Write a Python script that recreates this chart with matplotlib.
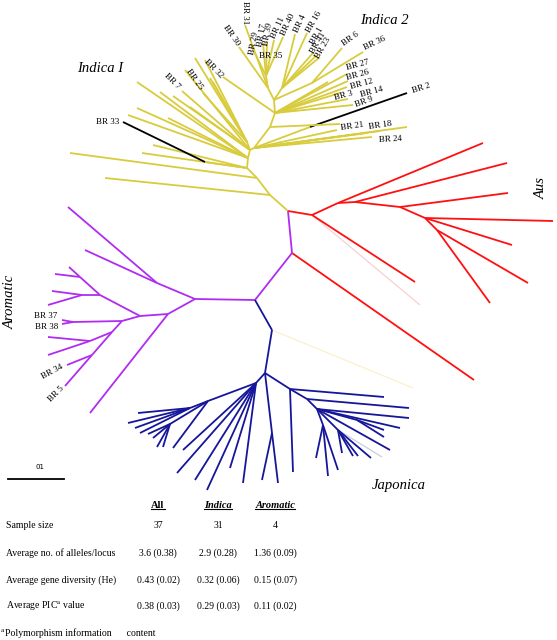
import matplotlib
matplotlib.use("Agg")
import matplotlib.pyplot as plt

plt.rcParams['font.family'] = ['Liberation Serif', 'DejaVu Serif']
plt.rcParams['mathtext.fontset'] = 'stix'

# tree layout (node, parent, x, y) in layout units (x right, y down)
aromatic = [
    ('P0', 'Y0', 292, 253), ('P1', 'P0', 255, 300), ('P2', 'P1', 195, 299),
    ('P3', 'P2', 157, 283), ('p1', 'P3', 68, 207), ('p2', 'P3', 85, 250),
    ('P4', 'P2', 168, 314), ('p3', 'P4', 90, 413), ('P5', 'P4', 140, 316),
    ('P6', 'P5', 100, 295), ('P6a', 'P6', 80, 277), ('p4', 'P6a', 55, 274),
    ('p5', 'P6a', 69, 267), ('P6b', 'P6', 82, 295), ('p6', 'P6b', 52, 291),
    ('p7', 'P6b', 48, 305), ('P7', 'P5', 122, 321), ('P7a', 'P7', 73, 322),
    ('BR 37', 'P7a', 62, 320), ('BR 38', 'P7a', 62, 324), ('P8', 'P7', 112, 332),
    ('P9', 'P8', 90, 341), ('p8', 'P9', 48, 337), ('p9', 'P9', 48, 355),
    ('P10', 'P8', 92, 355), ('BR 34', 'P10', 67, 365), ('BR 5', 'P10', 65, 386),
]

aus = [
    ('R1', 'Y0', 312, 215), ('a1', 'R1', 415, 282), ('R2', 'R1', 338, 203),
    ('a2', 'R2', 483, 143), ('R3', 'R2', 355, 202), ('a3', 'R3', 507, 163),
    ('R4', 'R3', 400, 207), ('a4', 'R4', 508, 193), ('R5', 'R4', 425, 218),
    ('a5', 'R5', 553, 221), ('a6', 'R5', 512, 245), ('R6', 'R5', 437, 230),
    ('a7', 'R6', 528, 283), ('a8', 'R6', 490, 303), ('a9', 'P0', 474, 380),
]

indica1 = [
    ('Y1', 'Y0', 270, 195), ('i1', 'Y1', 105, 178), ('Y2', 'Y1', 257, 178),
    ('i2', 'Y2', 70, 153), ('Y3', 'Y2', 247, 168), ('i3', 'Y3', 142, 153),
    ('i4', 'Y3', 153, 145), ('N33', 'Y3', 205, 162), ('BR 33', 'N33', 123, 122),
    ('Y4', 'Y3', 248, 158), ('i5', 'Y4', 128, 115), ('i6', 'Y4', 137, 108),
    ('i7', 'Y4', 137, 82), ('i8', 'Y4', 160, 92), ('i9', 'Y4', 168, 118),
    ('Y5', 'Y4', 250, 150), ('i10', 'Y5', 173, 96), ('BR 7', 'Y5', 182, 91),
    ('BR 25', 'Y5', 185, 70), ('i11', 'Y5', 190, 107), ('Y6', 'Y5', 247, 142),
    ('i12', 'Y6', 195, 58), ('i13', 'Y6', 205, 60), ('i14', 'Y6', 203, 93),
    ('i15', 'Y6', 210, 78), ('i16', 'Y6', 213, 82),
]

indica2 = [
    ('I2a', 'Y5', 254, 148), ('BR 24', 'I2a', 372, 137), ('m1', 'I2a', 380, 131),
    ('BR 18', 'I2a', 407, 127), ('m2', 'I2a', 367, 133), ('BR 21', 'I2a', 337, 130),
    ('N2', 'I2a', 310, 127), ('BR 2', 'N2', 407, 93), ('I2b', 'I2a', 270, 127),
    ('m3', 'I2b', 340, 124), ('I2c', 'I2b', 275, 113), ('BR 9', 'I2c', 353, 105),
    ('BR 14', 'I2c', 348, 99), ('BR 3', 'I2c', 340, 93), ('BR 12', 'I2c', 347, 87),
    ('BR 26', 'I2c', 348, 81), ('BR 27', 'I2c', 347, 74), ('m4', 'I2c', 328, 82),
    ('BR 32', 'I2c', 223, 77), ('I2d', 'I2c', 274, 100), ('N6', 'I2d', 312, 83),
    ('BR 6', 'N6', 342, 48), ('BR 36', 'N6', 363, 52), ('N1', 'I2d', 282, 88),
    ('BR 1', 'N1', 313, 53), ('BR 41', 'N1', 317, 55), ('BR 23', 'N1', 320, 57),
    ('BR 4', 'N1', 295, 34), ('BR 16', 'N1', 307, 33), ('I2e', 'I2d', 268, 88),
    ('BR 30', 'I2e', 239, 47), ('BR 31', 'I2e', 245, 25), ('N35', 'I2e', 266, 76),
    ('BR 29', 'N35', 251, 45), ('BR 17', 'N35', 263, 43), ('BR 39', 'N35', 267, 42),
    ('BR 11', 'N35', 274, 40), ('BR 40', 'N35', 283, 37),
]

japonica = [
    ('J1', 'P1', 272, 330), ('J0', 'J1', 265, 373), ('Ja', 'J0', 256, 383),
    ('Jb', 'Ja', 208, 401), ('Jb1', 'Jb', 190, 408), ('j1', 'Jb1', 138, 413),
    ('j2', 'Jb1', 128, 423), ('j3', 'Jb1', 135, 428), ('j4', 'Jb1', 140, 433),
    ('Jc', 'Jb', 170, 424), ('j5', 'Jc', 148, 434), ('j6', 'Jc', 153, 438),
    ('j7', 'Jc', 157, 447), ('j8', 'Jc', 163, 447), ('j9', 'Jb', 173, 448),
    ('j10', 'Ja', 183, 450), ('j11', 'Ja', 177, 473), ('j12', 'Ja', 195, 480),
    ('j13', 'Ja', 207, 490), ('j14', 'Ja', 230, 468), ('j15', 'Ja', 243, 483),
    ('Jd', 'J0', 272, 433), ('j16', 'Jd', 278, 483), ('j17', 'Jd', 262, 480),
    ('Je', 'J0', 290, 389), ('j18', 'Je', 293, 472), ('j19', 'Je', 384, 397),
    ('Jf', 'Je', 307, 399), ('j20', 'Jf', 409, 408), ('Jg', 'Jf', 317, 409),
    ('j21', 'Jg', 409, 418), ('j22', 'Jg', 400, 428), ('Jg1', 'Jg', 357, 420),
    ('j23', 'Jg1', 384, 430), ('j24', 'Jg1', 384, 437), ('j25', 'Jg', 390, 450),
    ('Jh', 'Jg', 323, 425), ('j26', 'Jh', 316, 458), ('j27', 'Jh', 328, 476),
    ('j28', 'Jh', 338, 470), ('Ji', 'Jg', 338, 430), ('j29', 'Ji', 342, 453),
    ('j30', 'Ji', 353, 456), ('j31', 'Ji', 358, 456), ('j32', 'Ji', 371, 458),
]

# faint ghost branches
faint = [('f_aus', 'R1', 420, 305), ('f_ind', 'J1', 413, 388), ('f_jap', 'Ji', 382, 457)]
faint_colors = ['#f8d0d0', '#fbf0cc', '#c8cbee']

black_leaves = ['BR 2', 'BR 33']

# table
table_cols = ['All', 'Indica', 'Aromatic']
table_rows = ['Sample size', 'Average no. of alleles/locus',
              'Average gene diversity (He)', r'Average PIC$^{\rm a}$ value']
table_vals = [['37', '31', '4'],
              ['3.6 (0.38)', '2.9 (0.28)', '1.36 (0.09)'],
              ['0.43 (0.02)', '0.32 (0.06)', '0.15 (0.07)'],
              ['0.38 (0.03)', '0.29 (0.03)', '0.11 (0.02)']]

clades = [(indica1, '#d8cc3c'), (indica2, '#d8cc3c'), (aus, '#ff1010'),
          (aromatic, '#b02cf0'), (japonica, '#16169a')]

pos = {'Y0': (288, 211)}
for rows, _ in clades:
    for n, p, x, y in rows:
        pos[n] = (x, y)
for n, p, x, y in faint:
    pos[n] = (x, y)

fig = plt.figure(figsize=(5.57, 6.4), dpi=100)
ax = fig.add_axes([0, 0, 1, 1])
ax.set_xlim(0, 557)
ax.set_ylim(640, 0)
ax.axis('off')

for (n, p, x, y), c in zip(faint, faint_colors):
    px, py = pos[p]
    ax.plot([px, x], [py, y], color=c, lw=0.9, solid_capstyle='butt')

for rows, col in clades:
    for n, p, x, y in rows:
        px, py = pos[p]
        c = 'black' if n in black_leaves else col
        ax.plot([px, x], [py, y], color=c, lw=1.3, solid_capstyle='butt')

# leaf labels: name -> (x, y, rotation)
leaf_labels = {
    'BR 31': (245, 13, -90), 'BR 30': (231, 35, -55), 'BR 29': (254, 43, 80),
    'BR 17': (262, 35, 80), 'BR 39': (268, 34, 80), 'BR 11': (278, 28, 65),
    'BR 40': (288, 25, 65), 'BR 4': (300, 24, 65), 'BR 16': (314, 22, 60),
    'BR 1': (317, 36, 60), 'BR 41': (318, 43, 60), 'BR 23': (323, 48, 60),
    'BR 35': (271, 56, 0), 'BR 6': (351, 39, 35), 'BR 36': (375, 43, 25),
    'BR 27': (358, 65, 15), 'BR 26': (358, 75, 15), 'BR 12': (362, 84, 15),
    'BR 3': (344, 96, 15), 'BR 14': (372, 92, 15), 'BR 9': (364, 102, 20),
    'BR 2': (421, 88, 18), 'BR 21': (352, 126, 8), 'BR 18': (380, 125, 8),
    'BR 24': (390, 139, 3), 'BR 32': (214, 69, -45), 'BR 25': (194, 79, -55),
    'BR 7': (172, 81, -45), 'BR 33': (108, 122, 0), 'BR 37': (46, 316, 0),
    'BR 38': (47, 327, 0), 'BR 34': (52, 372, 28), 'BR 5': (56, 394, 45),
}
for name, (x, y, r) in leaf_labels.items():
    ax.text(x, y, name, fontsize=6.5, rotation=r, rotation_mode='anchor',
            ha='center', va='center')

ital = dict(fontsize=10.5, style='italic', ha='center', va='center')
ax.text(100, 68, 'Indica I', **ital)
ax.text(384, 20, 'Indica 2', **ital)
ax.text(541, 188, 'Aus', rotation=90, **ital)
ax.text(10, 302, 'Aromatic', rotation=90, **ital)
ax.text(399, 486, 'Japonica', **ital)

# scale bar
ax.plot([8, 64], [479, 479], color='black', lw=1.3)
ax.text(40, 467, '01', fontsize=5, family='DejaVu Sans', ha='center', va='center')

# table
col_x = [158, 218, 275]
row_y = [526, 553, 580, 606]
heads = []
for cx, h in zip(col_x, table_cols):
    st = 'normal' if h == 'All' else 'italic'
    heads.append(ax.text(cx, 505, h, fontsize=7.5, weight='bold', style=st,
                         ha='center', va='center'))
for ry, lab, vals in zip(row_y, table_rows, table_vals):
    ax.text(6, ry, lab, fontsize=7, ha='left', va='center')
    for cx, v in zip(col_x, vals):
        ax.text(cx, ry, v, fontsize=7, ha='center', va='center')
ax.text(1, 630, 'a', fontsize=5, ha='left', va='center')
ax.text(5, 633, 'Polymorphism information      content', fontsize=7,
        ha='left', va='center')

fig.canvas.draw()
inv = ax.transData.inverted()
for t in heads:
    bb = t.get_window_extent()
    (x0, y0), (x1, y1) = inv.transform([(bb.x0, bb.y0), (bb.x1, bb.y1)])
    ax.plot([x0, x1], [y0 - 0.5, y0 - 0.5], color='black', lw=0.8)

fig.savefig('out.png', dpi=100)
